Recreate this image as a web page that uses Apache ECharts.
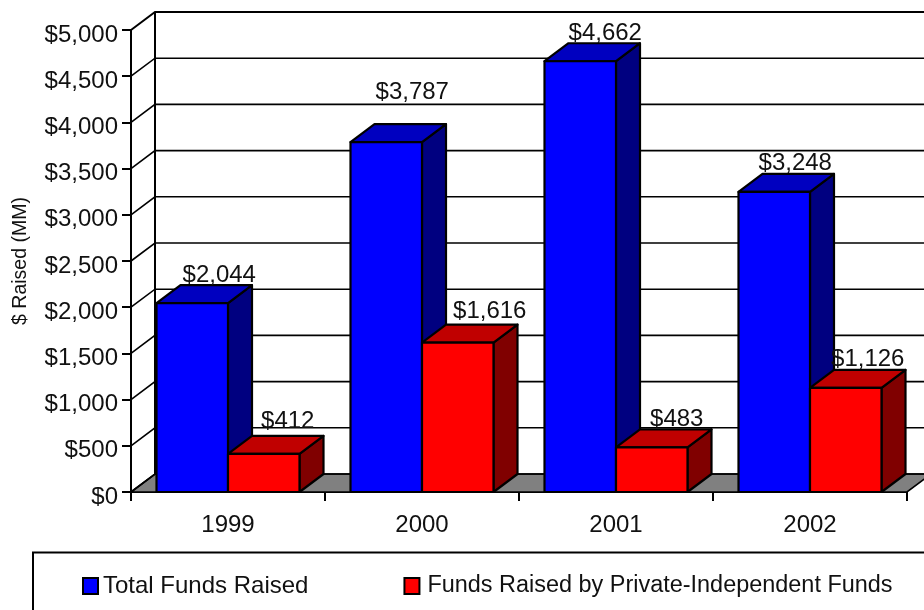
<!DOCTYPE html>
<html>
<head>
<meta charset="utf-8">
<style>html,body{margin:0;padding:0;background:#fff}#chart{width:924px;height:610px}</style>
<script src="https://cdn.jsdelivr.net/npm/echarts@6/dist/echarts.min.js"></script>
</head>
<body>
<div id="chart"></div>
<script>
const years = ['1999', '2000', '2001', '2002'];
const totalFunds = [2044, 3787, 4662, 3248];
const privateFunds = [412, 1616, 483, 1126];
const yTicks = [0, 500, 1000, 1500, 2000, 2500, 3000, 3500, 4000, 4500, 5000];

// Isometric depth of the box drawn around the plot
const DEPTH_X = 24, DEPTH_Y = 18;
const BAR_W = 71.5;
const FONT = '"Liberation Sans", Arial, sans-serif';
const INK = '#000';

// Label placement relative to the bar's rear top edge: lift upward, shift sideways
const totalLift = [10, 32, 10, 11];
const totalShift = [3, 2, 1, -3];
const privateLift = [15, 13, 10, 11];
const privateShift = [0, 8, 1, -2];

const usd = v => '$' + v.toLocaleString('en-US');

// Three visible faces of a box, with the value label above it
function boxRenderer(side, front, top, flank, lifts, shifts) {
  return function (params, api) {
    const i = api.value(0);
    const v = api.value(1);
    const base = api.coord([i, 0]);
    const head = api.coord([i, v]);
    const x0 = side < 0 ? base[0] - BAR_W : base[0];
    const x1 = x0 + BAR_W;
    const y0 = base[1], y1 = head[1];
    const stroke = { stroke: INK, lineWidth: 2.2, lineJoin: 'round' };
    return {
      type: 'group',
      children: [
        { type: 'polygon', shape: { points: [[x1, y0], [x1 + DEPTH_X, y0 - DEPTH_Y], [x1 + DEPTH_X, y1 - DEPTH_Y], [x1, y1]] },
          style: Object.assign({ fill: flank }, stroke) },
        { type: 'polygon', shape: { points: [[x0, y1], [x0 + DEPTH_X, y1 - DEPTH_Y], [x1 + DEPTH_X, y1 - DEPTH_Y], [x1, y1]] },
          style: Object.assign({ fill: top }, stroke) },
        { type: 'rect', shape: { x: x0, y: y1, width: BAR_W, height: y0 - y1 },
          style: Object.assign({ fill: front }, stroke) },
        { type: 'text', z2: 50, style: { text: usd(v), x: (x0 + x1) / 2 + DEPTH_X + shifts[i], y: y1 - DEPTH_Y - lifts[i],
            fill: '#111', font: '24px ' + FONT, textAlign: 'center', textVerticalAlign: 'middle' } }
      ]
    };
  };
}

// Back wall rules, with the short diagonal joining each to the front axis
function wallRenderer(params, api) {
  const p = api.coord([0, api.value(0)]);
  const left = params.coordSys.x;
  const right = left + params.coordSys.width;
  const isTop = api.value(0) === yTicks[yTicks.length - 1];
  return {
    type: 'polyline',
    shape: { points: [[left, p[1]], [left + DEPTH_X, p[1] - DEPTH_Y], [right + DEPTH_X, p[1] - DEPTH_Y]] },
    style: { fill: 'none', stroke: INK, lineWidth: isTop ? 2 : 1.6 }
  };
}

// Grey floor of the box plus the rear vertical edge
function floorRenderer(params, api) {
  const cs = params.coordSys;
  const b = cs.y + cs.height;
  return {
    type: 'group',
    children: [
      { type: 'polygon', shape: { points: [[cs.x, b], [cs.x + DEPTH_X, b - DEPTH_Y], [cs.x + cs.width + DEPTH_X, b - DEPTH_Y], [cs.x + cs.width, b]] },
        style: { fill: '#808080', stroke: INK, lineWidth: 1.6 } },
      { type: 'line', shape: { x1: cs.x + DEPTH_X, y1: cs.y - DEPTH_Y, x2: cs.x + DEPTH_X, y2: b - DEPTH_Y },
        style: { stroke: INK, lineWidth: 2 } }
    ]
  };
}

const chart = echarts.init(document.getElementById('chart'), null, { renderer: 'canvas' });
chart.setOption({
  animation: false,
  backgroundColor: '#fff',
  textStyle: { fontFamily: FONT },
  grid: { left: 131, top: 30, width: 776, height: 462, containLabel: false, outerBoundsMode: 'none' },
  xAxis: {
    type: 'category',
    data: years,
    axisLine: { lineStyle: { color: INK, width: 2 } },
    axisTick: { show: true, length: 9, lineStyle: { color: INK, width: 2 } },
    axisLabel: { color: '#111', fontSize: 24, fontFamily: FONT, margin: 21 },
    splitLine: { show: false }
  },
  yAxis: {
    type: 'value',
    min: 0, max: 5000, interval: 500,
    name: '$ Raised (MM)',
    nameLocation: 'middle',
    nameRotate: 90,
    nameGap: 100,
    nameTextStyle: { color: '#111', fontSize: 19.5, fontFamily: FONT },
    axisLine: { show: true, lineStyle: { color: INK, width: 2 } },
    axisTick: { show: true, length: 9, lineStyle: { color: INK, width: 2 } },
    axisLabel: { color: '#111', fontSize: 24, fontFamily: FONT, margin: 13, verticalAlign: 'top', lineHeight: 10, formatter: usd },
    splitLine: { show: false }
  },
  legend: {
    left: 77, top: 569,
    itemWidth: 15, itemHeight: 16,
    itemGap: 95,
    icon: 'rect',
    textStyle: { color: '#111', fontSize: 24, fontFamily: FONT },
    data: [
      { name: 'Total Funds Raised' },
      { name: 'Funds Raised by Private-Independent Funds', textStyle: { fontSize: 23.45, padding: [1, 0, 0, 3] } }
    ]
  },
  graphic: [{
    type: 'rect',
    shape: { x: 33, y: 552.5, width: 1000, height: 200 },
    style: { fill: 'none', stroke: INK, lineWidth: 2 }
  }],
  series: [
    { type: 'custom', name: 'floor', silent: true, z: 1, data: [0], renderItem: floorRenderer, encode: { y: 0 } },
    { type: 'custom', name: 'wall', silent: true, z: 1, data: yTicks.map(v => [v]), renderItem: wallRenderer, encode: { y: 0 } },
    { type: 'custom', name: 'Total Funds Raised', z: 2, itemStyle: { color: '#0000ff', borderColor: INK, borderWidth: 2 },
      data: totalFunds.map((v, i) => [i, v]), encode: { x: 0, y: 1 },
      renderItem: boxRenderer(-1, '#0000ff', '#0000c0', '#000080', totalLift, totalShift) },
    { type: 'custom', name: 'Funds Raised by Private-Independent Funds', z: 3, itemStyle: { color: '#ff0000', borderColor: INK, borderWidth: 2 },
      data: privateFunds.map((v, i) => [i, v]), encode: { x: 0, y: 1 },
      renderItem: boxRenderer(1, '#ff0000', '#c00000', '#800000', privateLift, privateShift) }
  ]
});
</script>
</body>
</html>
